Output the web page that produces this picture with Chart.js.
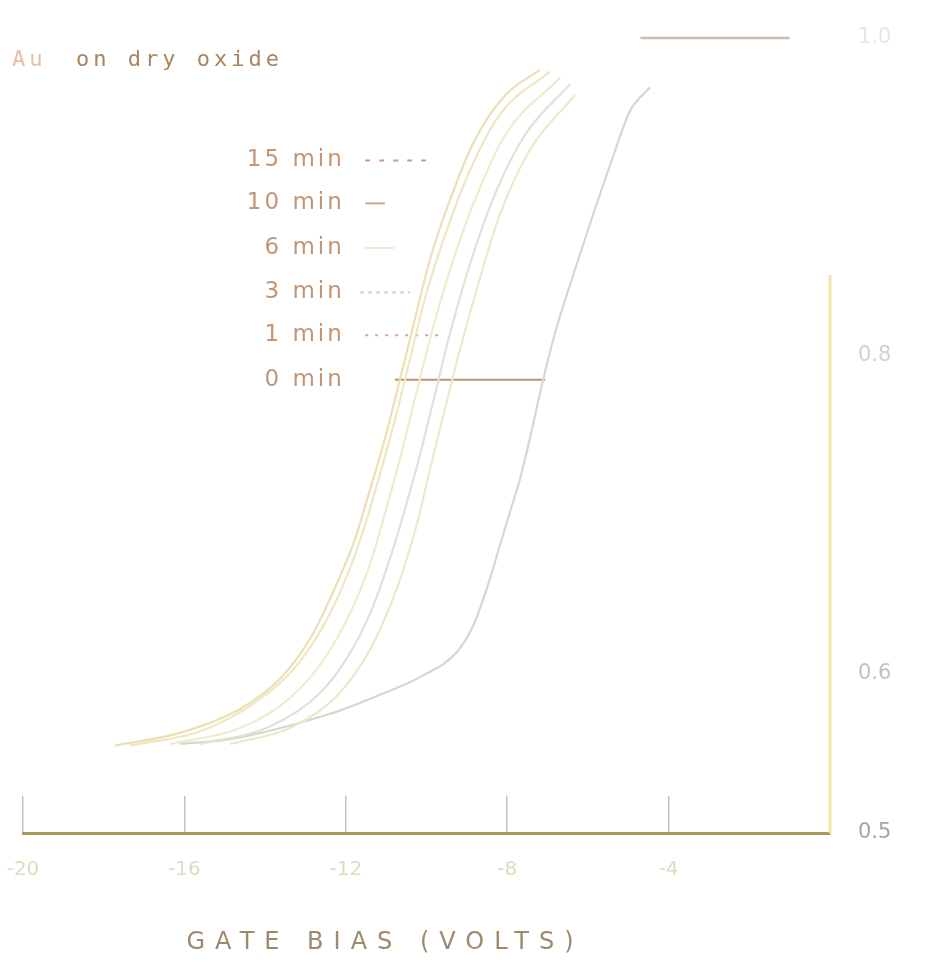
<!DOCTYPE html>
<html>
<head>
<meta charset="utf-8">
<script src="https://cdn.jsdelivr.net/npm/chart.js@4.4.1/dist/chart.umd.min.js"></script>
<style>
html,body{margin:0;padding:0;background:#ffffff;}
canvas{display:block;}
</style>
</head>
<body>
<canvas id="c" width="926" height="966"></canvas>
<script>
// ---------- DATA ----------
const chartTitle = 'Au on dry oxide';
const xAxisTitle = 'GATE BIAS (VOLTS)';
const xTickValues = [-20, -16, -12, -8, -4];
const yTickValues = [0.5, 0.6, 0.8, 1.0];
const seriesNames = ['15 min', '10 min', '6 min', '3 min', '1 min', '0 min'];

// gate bias (V) and normalised capacitance C/Cox
const bias15 = [-17.72, -16.11, -14.62, -13.63, -12.89, -12.27, -11.77, -11.40, -11.03, -10.66, -10.29, -9.91, -9.42, -8.80, -8.05, -7.19];
const cap15  = [0.555, 0.563, 0.578, 0.597, 0.622, 0.654, 0.685, 0.716, 0.748, 0.785, 0.823, 0.861, 0.898, 0.936, 0.964, 0.980];

const bias10 = [-17.35, -15.61, -14.25, -13.26, -12.52, -11.95, -11.52, -11.15, -10.78, -10.41, -10.04, -9.54, -8.92, -8.18, -6.94];
const cap10  = [0.555, 0.564, 0.582, 0.604, 0.632, 0.663, 0.694, 0.726, 0.760, 0.798, 0.836, 0.876, 0.917, 0.952, 0.979];

const bias6 = [-16.36, -14.62, -13.38, -12.52, -11.90, -11.40, -11.03, -10.66, -10.29, -9.91, -9.42, -8.80, -8.05, -6.69];
const cap6  = [0.556, 0.566, 0.585, 0.610, 0.638, 0.669, 0.701, 0.735, 0.773, 0.811, 0.854, 0.898, 0.939, 0.975];

const bias3 = [-15.61, -13.88, -12.64, -11.90, -11.35, -10.90, -10.53, -10.16, -9.79, -9.42, -8.92, -8.30, -7.56, -6.44];
const cap3  = [0.556, 0.567, 0.588, 0.613, 0.641, 0.673, 0.704, 0.738, 0.776, 0.814, 0.858, 0.902, 0.939, 0.971];

const bias1 = [-14.87, -13.38, -12.27, -11.52, -11.03, -10.61, -10.24, -9.91, -9.54, -9.17, -8.72, -8.18, -7.43, -6.32];
const cap1  = [0.556, 0.566, 0.585, 0.610, 0.635, 0.663, 0.694, 0.729, 0.767, 0.804, 0.845, 0.889, 0.930, 0.964];

const bias0 = [-16.11, -14.87, -12.39, -11.15, -10.09, -9.24, -8.85, -8.50, -8.18, -7.93, -7.68, -7.44, -7.11, -6.82, -6.44, -5.95, -5.45, -4.96, -4.46];
const cap0  = [0.556, 0.559, 0.575, 0.587, 0.599, 0.614, 0.630, 0.654, 0.681, 0.702, 0.723, 0.748, 0.785, 0.814, 0.845, 0.883, 0.920, 0.954, 0.969];

// saturation level line at the top, and the drawn part of the right-hand axis
const topLineBias = [-4.7, -1.0];
const topLineCap  = [1.0, 1.0];
const rightAxisBias = [0, 0];
const rightAxisCap  = [0.5, 0.851];

// label levels (C/Cox) and leader-line extents (V)
const labelLevels = [0.923, 0.896, 0.868, 0.840, 0.813, 0.785];
const leaderFrom  = [-11.52, -11.52, -11.52, -11.65, -11.52, -10.78];
const leaderTo    = [-9.91, -11.03, -10.80, -10.41, -9.54, -7.06];
const labelAnchorBias = -12.1;

// ---------- STYLES ----------
const curveColors = ['#ebdfb4', '#eee8c2', '#f0ebcf', '#e2e1d8', '#ebe9cc', '#d6d6d2'];
const leaderColors = ['#c89e80', '#d2aa8a', '#efe8d6', '#d8cfc2', '#d4ab8a', '#c3906a'];
const leaderDash = [[5, 9], [], [], [4, 4], [3, 7], []];
const yTickColors = ['#a4a4a4', '#c2c2c2', '#dccfc6', '#e6e6e6'];

const pts = (xs, ys) => xs.map((v, i) => ({x: v, y: ys[i]}));
const curves = [[bias15, cap15], [bias10, cap10], [bias6, cap6], [bias3, cap3], [bias1, cap1], [bias0, cap0]];

const datasets = [];
curves.forEach((c, i) => {
  datasets.push({
    label: seriesNames[i],
    data: pts(c[0], c[1]),
    borderColor: curveColors[i],
    borderWidth: 2.2,
    pointRadius: 0,
    fill: false,
    cubicInterpolationMode: 'monotone'
  });
});
labelLevels.forEach((lv, i) => {
  datasets.push({
    label: seriesNames[i] + ' leader',
    data: pts([leaderFrom[i], leaderTo[i]], [lv, lv]),
    borderColor: leaderColors[i],
    borderWidth: 2,
    borderDash: leaderDash[i],
    pointRadius: 0,
    fill: false
  });
});
datasets.push({
  label: 'top',
  data: pts(topLineBias, topLineCap),
  borderColor: '#cbbcad',
  borderWidth: 2.5,
  pointRadius: 0,
  clip: 6
});
datasets.push({
  label: 'right axis',
  data: pts(rightAxisBias, rightAxisCap),
  borderColor: '#eee5a6',
  borderWidth: 3,
  pointRadius: 0,
  clip: 6
});

const textPlugin = {
  id: 'texts',
  afterDraw(chart) {
    const {ctx, scales: {x, y}} = chart;
    ctx.save();
    // chart title
    const words = chartTitle.split(' ');
    ctx.font = '22px "DejaVu Sans Mono"';
    ctx.letterSpacing = '4px';
    ctx.textAlign = 'left';
    ctx.textBaseline = 'alphabetic';
    ctx.fillStyle = '#e8bfa0';
    ctx.fillText(words[0], 12, 66);
    ctx.fillStyle = '#a8845f';
    ctx.fillText(words.slice(1).join(' '), 76, 66);

    // series labels
    ctx.font = '23px "DejaVu Sans"';
    ctx.letterSpacing = '3px';
    ctx.textAlign = 'right';
    ctx.textBaseline = 'middle';
    ctx.fillStyle = '#c39577';
    const lx = x.getPixelForValue(labelAnchorBias);
    seriesNames.forEach((n, i) => {
      ctx.fillText(n, lx + 3, y.getPixelForValue(labelLevels[i]));
    });

    // x axis title
    ctx.font = '24px "DejaVu Sans"';
    ctx.letterSpacing = '10px';
    ctx.textAlign = 'center';
    ctx.fillStyle = '#9c8a6c';
    ctx.fillText(xAxisTitle, 385, 943);
    ctx.restore();
  }
};

new Chart(document.getElementById('c'), {
  type: 'line',
  data: {datasets},
  options: {
    responsive: false,
    animation: false,
    events: [],
    layout: {padding: {left: 23, top: 38, right: 0, bottom: 0}},
    plugins: {legend: {display: false}, tooltip: {enabled: false}, title: {display: false}},
    scales: {
      x: {
        type: 'linear',
        position: 'bottom',
        min: -20,
        max: 0,
        afterBuildTicks: s => { s.ticks = xTickValues.map(v => ({value: v})); },
        afterFit: s => { s.height = 133; s.paddingLeft = 0; s.paddingRight = 0; },
        grid: {display: true, drawOnChartArea: false, drawTicks: true, tickLength: -37, color: '#cbc3b2', lineWidth: 1.5},
        border: {display: true, color: '#ab9a5c', width: 3},
        ticks: {color: '#e0dbbf', font: {size: 20, family: 'DejaVu Sans'}, padding: 62, maxRotation: 0, autoSkip: false}
      },
      y: {
        type: 'linear',
        position: 'right',
        min: 0.5,
        max: 1.0,
        afterBuildTicks: s => { s.ticks = yTickValues.map(v => ({value: v})); },
        afterFit: s => { s.width = 96; s.paddingTop = 0; s.paddingBottom = 0; },
        grid: {display: false, drawTicks: false},
        border: {display: false},
        ticks: {
          padding: 28,
          font: {size: 21, family: 'DejaVu Sans'},
          color: c => yTickColors[c.index],
          callback: v => Number(v).toFixed(1)
        }
      }
    }
  },
  plugins: [textPlugin]
});
</script>
</body>
</html>
